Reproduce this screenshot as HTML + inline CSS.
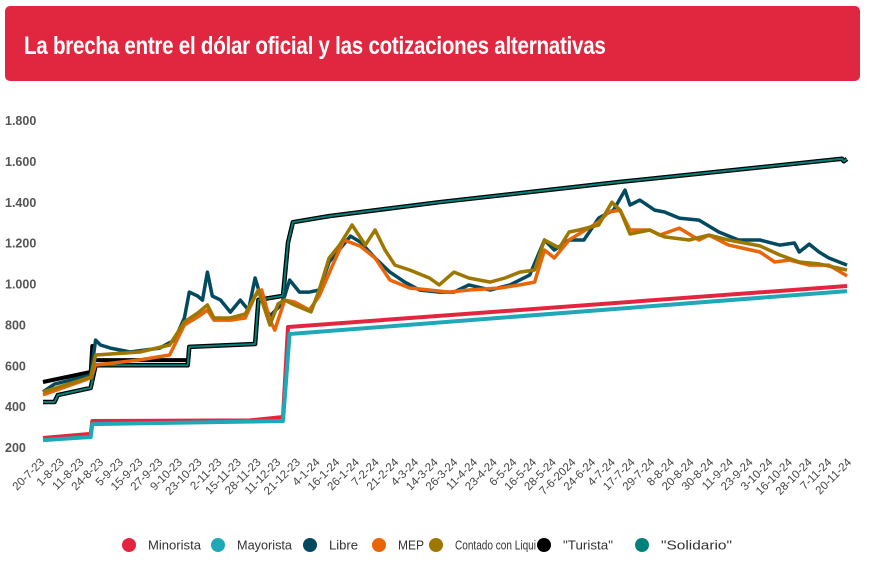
<!DOCTYPE html>
<html><head><meta charset="utf-8">
<style>
body{margin:0;width:874px;height:574px;background:#fff;overflow:hidden;font-family:"Liberation Sans",sans-serif;}
#banner{position:absolute;left:5px;top:6px;width:855px;height:75px;background:#e1263f;border-radius:5px;}
#banner h1{margin:0;position:absolute;left:19px;top:26px;color:#fff;font:bold 25px "Liberation Sans",sans-serif;white-space:nowrap;transform:scaleX(0.822);transform-origin:0 0;letter-spacing:-0.3px;}
svg{position:absolute;left:0;top:0;}
</style></head><body>
<div id="banner"><h1>La brecha entre el dólar oficial y las cotizaciones alternativas</h1></div>
<svg id="chart" width="874" height="574"></svg>
<script>
const yTicks=[200,400,600,800,1000,1200,1400,1600,1800];
const yTickLabels=["200","400","600","800","1.000","1.200","1.400","1.600","1.800"];
const xLabels=["20-7-23","1-8-23","11-8-23","24-8-23","5-9-23","15-9-23","27-9-23","9-10-23","23-10-23","2-11-23","15-11-23","28-11-23","11-12-23","21-12-23","4-1-24","16-1-24","26-1-24","7-2-24","21-2-24","4-3-24","14-3-24","26-3-24","11-4-24","23-4-24","6-5-24","16-5-24","28-5-24","7-6-2024","24-6-24","4-7-24","17-7-24","29-7-24","8-8-24","20-8-24","30-8-24","11-9-24","23-9-24","3-10-24","16-10-24","28-10-24","7-11-24","20-11-24"];
// series: day index since 20-7-23, value
const minoristaDays=[0,29,30,126,146,149,489];
const minoristaVals=[244,264,327,330,347,787,988];
const mayoristaDays=[0,29,30,146,150,489];
const mayoristaVals=[234,249,312,327,753,963];
const turistaDays=[0,29,30,31,32,88];
const turistaVals=[518,567,694,640,625,625];
const solidarioDays=[0,7,9,29,32,88,89,129,131,146,149,152,174,241,351,486,487,489];
const solidarioVals=[420,420,454,489,600,600,690,704,920,940,1200,1300,1330,1398,1497,1610,1598,1609];
const libreDays=[0,7,29,32,35,41,53,71,80,86,89,94,97,100,103,108,114,120,125,129,133,138,144,147,150,156,162,168,174,180,187,193,202,211,220,229,241,250,259,272,284,296,305,311,320,329,338,347,354,357,363,372,378,387,399,411,423,436,448,457,460,466,472,478,489];
const libreVals=[469,508,552,723,699,684,665,684,723,831,958,939,919,1056,939,919,860,919,870,1027,919,841,890,939,1017,958,958,968,1105,1164,1232,1203,1125,1056,1007,968,958,958,993,968,993,1041,1213,1164,1213,1213,1320,1359,1457,1384,1408,1359,1350,1320,1310,1252,1213,1213,1188,1198,1154,1193,1154,1125,1090];
const mepDays=[0,29,32,59,77,86,95,100,104,114,123,129,133,138,141,147,153,162,168,177,183,193,202,211,223,235,247,259,278,290,299,305,311,320,338,344,351,357,369,375,387,399,405,417,436,445,454,466,478,489];
const mepVals=[455,538,601,626,650,797,841,870,821,821,831,939,968,821,772,919,909,870,939,1105,1213,1183,1125,1017,978,968,958,968,978,993,1007,1164,1125,1213,1301,1350,1359,1262,1262,1237,1271,1213,1237,1188,1154,1105,1115,1090,1090,1037];
const cclDays=[0,29,32,59,77,86,95,100,104,114,123,131,135,138,143,147,153,163,168,174,180,188,196,202,208,214,223,235,241,250,259,272,281,290,299,305,314,320,326,338,346,351,357,369,378,393,405,417,436,448,460,472,489];
const cclVals=[469,542,650,665,699,812,861,895,831,831,851,968,870,797,900,919,895,861,968,1125,1184,1286,1188,1262,1164,1090,1066,1027,993,1056,1027,1007,1027,1056,1066,1213,1174,1252,1262,1286,1398,1359,1242,1262,1228,1213,1237,1213,1184,1140,1105,1096,1066];

const svg=document.getElementById('chart');
const NS='http://www.w3.org/2000/svg';
const x0=43,x1=847,dMax=489,y0=447,yTop=120;
const X=d=>x0+(x1-x0)*d/dMax;
const Y=v=>y0-(y0-yTop)*(v-200)/1600;
function mk(t){return document.createElementNS(NS,t);}
yTicks.forEach((v,i)=>{const t=mk('text');


t.setAttribute('x',5);t.setAttribute('y',Y(v)+5);t.setAttribute('font-size','12.5');t.setAttribute('font-weight','bold');t.setAttribute('fill','#555');t.textContent=yTickLabels[i];svg.appendChild(t);});
xLabels.forEach((s,i)=>{const t=mk('text');


const xx=45+i*(852-45)/(xLabels.length-1),yy=463;
t.setAttribute('x',xx);t.setAttribute('y',yy);t.setAttribute('text-anchor','end');t.setAttribute('font-size','11.5');t.setAttribute('fill','#444');t.setAttribute('transform','rotate(-45 '+xx+' '+yy+')');t.textContent=s;svg.appendChild(t);});
function line(days,vals,color,w,name){const p=mk('polyline');


p.setAttribute('points',days.map((d,i)=>X(d).toFixed(1)+','+Y(vals[i]).toFixed(1)).join(' '));
p.setAttribute('fill','none');p.setAttribute('stroke',color);p.setAttribute('stroke-width',w);p.setAttribute('stroke-linejoin','round');svg.appendChild(p);}
line(turistaDays,turistaVals,'#000',4,'turista-line');
line(solidarioDays,solidarioVals,'#000',4.5,'solidario-line-outline');
line(solidarioDays,solidarioVals,'#00827a',2,'solidario-line');
line(minoristaDays,minoristaVals,'#e3263f',4,'minorista-line');
line(mayoristaDays,mayoristaVals,'#1fa8b8',4,'mayorista-line');
line(libreDays,libreVals,'#034a60',3.5,'libre-line');
line(mepDays,mepVals,'#e8650a',3.5,'mep-line');
line(cclDays,cclVals,'#9e7700',3.5,'ccl-line');
const legNames=["Minorista","Mayorista","Libre","MEP","Contado con Liqui","\"Turista\"","\"Solidario\""];
const legColors=["#e3263f","#1fa8b8","#034a60","#e8650a","#9e7700","#000","#00827a"];
const legX=[129,218,310,379,436,544,642];
const legW=[53,55,29,26,81,50,71];
legNames.forEach((n,i)=>{const g=mk('g');


const c=mk('circle');c.setAttribute('cx',legX[i]);c.setAttribute('cy',545);c.setAttribute('r',7);c.setAttribute('fill',legColors[i]);g.appendChild(c);
const t=mk('text');t.setAttribute('x',legX[i]+19);t.setAttribute('y',549.5);t.setAttribute('font-size','13');t.setAttribute('fill','#333');t.setAttribute('textLength',legW[i]);t.setAttribute('lengthAdjust','spacingAndGlyphs');t.textContent=n;g.appendChild(t);svg.appendChild(g);});
</script>
</body></html>
